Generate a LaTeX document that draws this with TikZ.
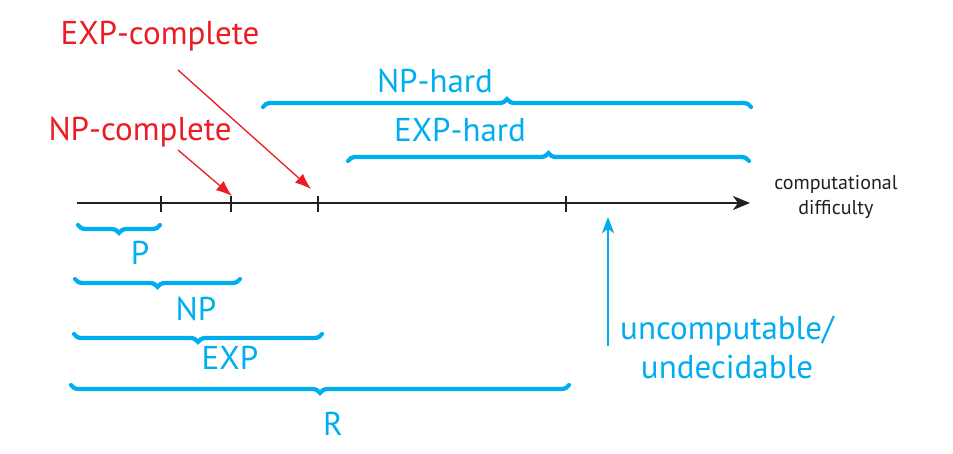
\documentclass[tikz,border=0pt]{standalone}
\usepackage{fontspec}
\setmainfont{PT Sans}
\usetikzlibrary{arrows.meta,decorations.pathreplacing}
\definecolor{cblue}{RGB}{0,174,239}
\definecolor{cred}{RGB}{237,28,36}
\definecolor{cblack}{RGB}{35,31,32}
\tikzset{
  biglabel/.style={font=\fontsize{33}{38}\selectfont, inner sep=0pt, anchor=base},
  bluelabel/.style={biglabel, text=cblue},
  redlabel/.style={biglabel, text=cred},
  bracestyle/.style={draw=cblue, line width=4.2pt, line cap=round,
     decorate, decoration={brace, amplitude=8pt}},
  underbrace/.style={bracestyle, decoration={brace, mirror, amplitude=8pt}},
  redarrow/.style={draw=cred, line width=1.3pt, -{Latex[length=16pt,width=12pt]}},
  axisline/.style={draw=cblack, line width=2.4pt, -{Stealth[length=17pt,width=14pt,inset=5pt]}},
  tick/.style={draw=cblack, line width=2.4pt},
  bluearrow/.style={draw=cblue, line width=2.4pt, -{Stealth[length=16pt,width=12pt,inset=4pt]}}
}
\begin{document}
\begin{tikzpicture}[x=1pt,y=-1pt]
\useasboundingbox (0,0) rectangle (953,453);
% axis
\coordinate (axL) at (77,203);
\coordinate (axR) at (750,203);
\draw[axisline] (axL) -- (axR);
\foreach \n/\x in {t1/161,t2/231,t3/318,t4/566}{
  \coordinate (\n top) at (\x,196);
  \coordinate (\n bot) at (\x,212);
  \draw[tick] (\n top) -- (\n bot);
}
\node[font=\fontsize{20}{25}\selectfont, text=cblack, align=center] (cd) at (836,197) {computational\\difficulty};
% lower braces
\coordinate (pA) at (78,225);  \coordinate (pB) at (160,225);
\draw[underbrace] (pA) -- (pB);
\node[bluelabel] (P) at (140,264) {P};
\coordinate (npA) at (75,279);  \coordinate (npB) at (240,279);
\draw[underbrace] (npA) -- (npB);
\node[bluelabel] (NP) at (196,320) {NP};
\coordinate (expA) at (74,334);  \coordinate (expB) at (322,334);
\draw[underbrace] (expA) -- (expB);
\node[bluelabel] (EXP) at (230,369) {EXP};
\coordinate (rA) at (71,385);  \coordinate (rB) at (569,385);
\draw[underbrace] (rA) -- (rB);
\node[bluelabel] (R) at (333,435) {R};
% upper braces
\coordinate (nhA) at (263,107);  \coordinate (nhB) at (751,107);
\draw[bracestyle] (nhA) -- (nhB);
\node[bluelabel] (NPh) at (435,92) {NP-hard};
\coordinate (ehA) at (348,161);  \coordinate (ehB) at (749,161);
\draw[bracestyle] (ehA) -- (ehB);
\node[bluelabel] (EXPh) at (460,141) {EXP-hard};
% red labels and arrows
\node[redlabel] (EXPc) at (160,44) {EXP-complete};
\node[redlabel] (NPc) at (140,140) {NP-complete};
\coordinate (e1) at (178,70);  \coordinate (e2) at (311,189);
\draw[redarrow] (e1) -- (e2);
\coordinate (n1) at (178,150);  \coordinate (n2) at (232,196);
\draw[redarrow] (n1) -- (n2);
% uncomputable
\coordinate (u1) at (608,346);  \coordinate (u2) at (608,217);
\draw[bluearrow] (u1) -- (u2);
\node[bluelabel, anchor=center, align=center, font=\fontsize{33}{39}\selectfont] (unc) at (727,347) {uncomputable/\\undecidable};
\end{tikzpicture}
\end{document}
